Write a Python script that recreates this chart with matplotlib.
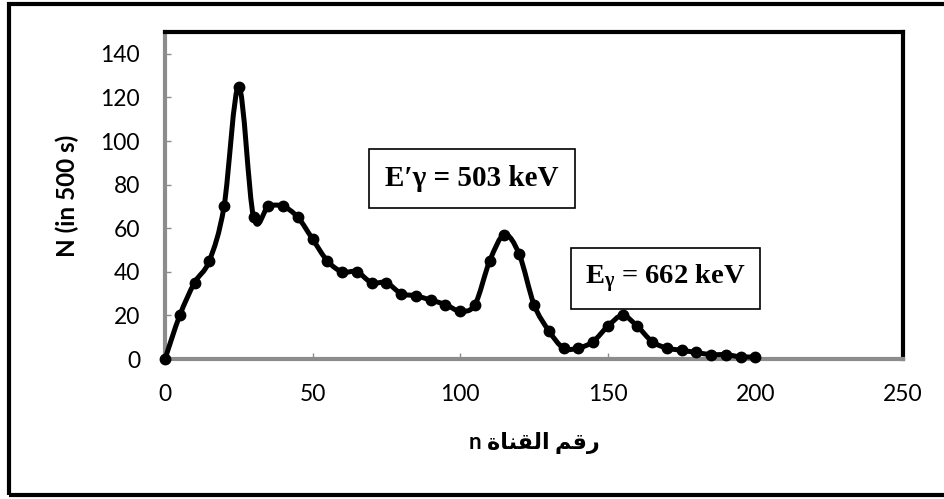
import numpy as np
import matplotlib
matplotlib.use("Agg")
import matplotlib.pyplot as plt
from matplotlib.path import Path
from matplotlib.patches import PathPatch, Rectangle

# Canal (n) y cuentas N en 500 s
canal = [0, 5, 10, 15, 20, 25, 30, 35, 40, 45, 50, 55, 60, 65, 70, 75, 80, 85, 90, 95, 100,
         105, 110, 115, 120, 125, 130, 135, 140, 145, 150, 155, 160, 165, 170, 175, 180, 185, 190, 195, 200]
cuentas = [0, 20, 35, 45, 70, 125, 65, 70, 70, 65, 55, 45, 40, 40, 35, 35, 30, 29, 27, 25, 22,
           25, 45, 57, 48, 25, 13, 5, 5, 8, 15, 20, 15, 8, 5, 4, 3, 2, 2, 1, 1]

x_ticks = [0, 50, 100, 150, 200, 250]
y_ticks = [0, 20, 40, 60, 80, 100, 120, 140]

etiqueta_y = "N (in 500 s)"
# "رقم القناة n" con formas de presentación árabes en orden visual
etiqueta_x = "n " + "\uFE93\uFE8E\uFEE8\uFED8\uFEDF\uFE8D" + " " + "\uFEE2\uFED7\uFEAD"
texto_pico1 = "E\u2032\u03b3 = 503 keV"
texto_pico2 = "E$_{\\gamma}$ = 662 keV"

plt.rcParams['mathtext.fontset'] = 'custom'
plt.rcParams['mathtext.rm'] = 'Liberation Serif:bold'
plt.rcParams['mathtext.it'] = 'Liberation Serif:bold'
plt.rcParams['mathtext.bf'] = 'Liberation Serif:bold'


def curva_suave(xs, ys):
    # curva tipo "línea suavizada" de Excel (Catmull-Rom -> Bezier)
    n = len(xs)
    verts = [(xs[0], ys[0])]
    codes = [Path.MOVETO]
    for i in range(n - 1):
        i0 = max(i - 1, 0)
        i3 = min(i + 2, n - 1)
        c1 = (xs[i] + (xs[i + 1] - xs[i0]) / 6, ys[i] + (ys[i + 1] - ys[i0]) / 6)
        c2 = (xs[i + 1] - (xs[i3] - xs[i]) / 6, ys[i + 1] - (ys[i3] - ys[i]) / 6)
        verts += [c1, c2, (xs[i + 1], ys[i + 1])]
        codes += [Path.CURVE4] * 3
    return Path(verts, codes)


fig = plt.figure(figsize=(9.44, 4.99), dpi=100)
ax = fig.add_axes([165 / 944, 1 - 359 / 499, (903 - 165) / 944, (359 - 32) / 499])

ax.add_patch(PathPatch(curva_suave(canal, cuentas), fill=False, lw=3.6, edgecolor='black',
                       capstyle='round', joinstyle='round', clip_on=False, zorder=3))
ax.plot(canal, cuentas, 'o', color='black', ms=7.5, clip_on=False, zorder=4)

ax.set_xlim(0, 250)
ax.set_ylim(0, 150)
ax.set_xticks(x_ticks)
ax.set_yticks(y_ticks)
ax.tick_params(direction='in', length=4, width=1, color='#8c8c8c', pad=18, labelsize=16.5)
for lab in ax.get_xticklabels() + ax.get_yticklabels():
    lab.set_fontfamily('Lato')

for s in ['top', 'right']:
    ax.spines[s].set_color('black')
    ax.spines[s].set_linewidth(3)
for s in ['left', 'bottom']:
    ax.spines[s].set_color('#8c8c8c')
    ax.spines[s].set_linewidth(3)
ax.axvline(0, color='#3a3a3a', lw=0.9, zorder=2.5)
ax.axhline(0, color='#3a3a3a', lw=0.9, zorder=2.5)

ax.set_ylabel(etiqueta_y, fontsize=17.5, fontweight='bold', fontfamily='Lato', labelpad=15)
fig.text(534 / 944, 1 - 443 / 499, etiqueta_x, ha='center', va='center', fontsize=16,
         fontweight='bold', family=['Lato', 'DejaVu Sans'])

ax.text(104, 83, texto_pico1, ha='center', va='center', fontsize=21, fontweight='bold',
        fontfamily='Liberation Serif',
        bbox=dict(boxstyle='square,pad=0.55', facecolor='white', edgecolor='black', lw=1.2))
ax.text(169.5, 37, texto_pico2, ha='center', va='center', fontsize=20.5, fontweight='bold',
        fontfamily='Liberation Serif',
        bbox=dict(boxstyle='square,pad=0.5', facecolor='white', edgecolor='black', lw=1.2))

# marco exterior
fig.patches.append(Rectangle((8.5 / 944, 1 - 494.5 / 499), 0.999, (494.5 - 3.5) / 499,
                             transform=fig.transFigure, fill=False, edgecolor='black', lw=3))

fig.savefig("out.png", dpi=100)
